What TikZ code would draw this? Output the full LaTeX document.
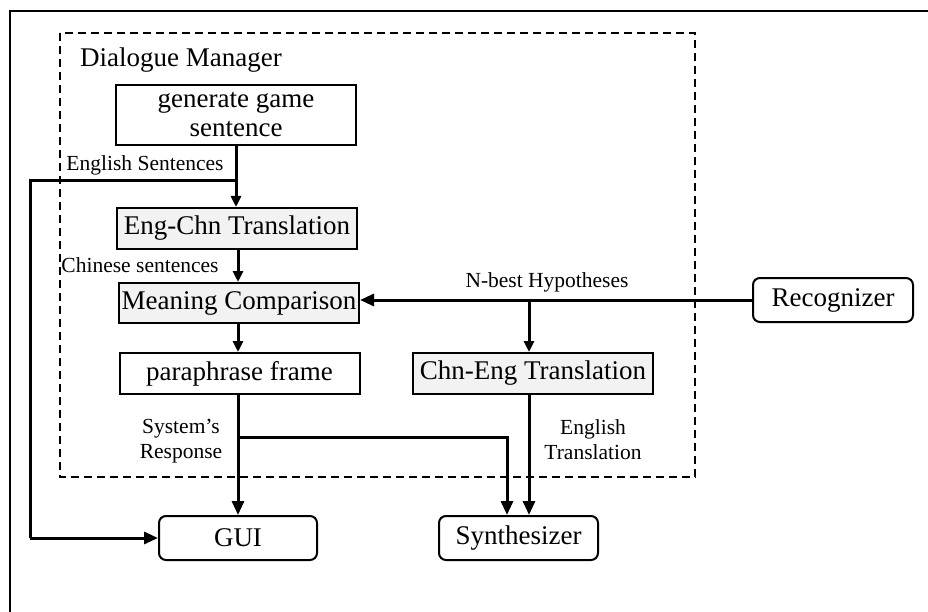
\documentclass[tikz,border=0pt]{standalone}
\usepackage{fontspec}
\setmainfont{Liberation Serif}
\usetikzlibrary{arrows.meta}
\begin{document}
\begin{tikzpicture}[x=1pt,y=-1pt,
  box/.style={draw,line width=2pt,minimum width=240pt,minimum height=41pt,inner sep=0pt,font=\fontsize{27}{29}\selectfont,align=center},
  gbox/.style={box,fill=gray!10},
  rbox/.style={draw,line width=2pt,rounded corners=7pt,minimum width=159pt,minimum height=44pt,inner sep=0pt,font=\fontsize{27}{29}\selectfont},
  lab/.style={font=\fontsize{21.5}{25}\selectfont,align=center,inner sep=0pt},
  conn/.style={line width=3pt},
  arr/.style={conn,-{Triangle[length=14pt,width=12pt]}},
  sarr/.style={conn,-{Triangle[length=11pt,width=10pt]}}]
\useasboundingbox (0,0) rectangle (928,612);
% outer frame
\draw[line width=2.5pt] (10,612) -- (10,11) -- (928,11);
% dialogue manager
\draw[line width=2pt,dash pattern=on 8pt off 5pt] (60,33) rectangle (695,477);
\node[anchor=west,font=\fontsize{27}{29}\selectfont,inner sep=0pt] (dmlab) at (80,60) {Dialogue Manager};
% boxes
\node[box,minimum height=60pt] (gen) at (236,115) {generate game\\sentence};
\node[gbox] (ec) at (237,228.5) {Eng-Chn Translation};
\node[gbox,minimum height=40pt] (mc) at (239,303) {Meaning Comparison};
\node[box] (pf) at (239.5,373.5) {paraphrase frame};
\node[gbox] (ce) at (533,373.5) {Chn-Eng Translation};
\node[rbox,minimum width=160pt] (rec) at (833,300) {Recognizer};
\node[rbox,minimum width=158pt] (gui) at (238,538) {GUI};
\node[rbox] (syn) at (518.5,538) {Synthesizer};
% coordinates
\coordinate (es) at (236,181);
\coordinate (el) at (30,181);
\coordinate (eb) at (30,538);
\coordinate (nb) at (529,300);
\coordinate (sr) at (238,437);
\coordinate (sc) at (507,437);
% connectors
\draw[sarr] (gen.south -| es) -- (ec.north -| es);
\draw[conn] (es) -- (el) -- (eb);
\draw[arr] (eb) -- (gui.west);
\draw[sarr] (ec.south -| 238,0) -- (mc.north -| 238,0);
\draw[arr] (rec.west) -- (rec.west -| mc.east);
\draw[sarr] (nb) -- (ce.north -| nb);
\draw[sarr] (mc.south -| sr) -- (pf.north -| sr);
\draw[arr] (pf.south -| sr) -- (gui.north -| sr);
\draw[arr] (sr) -- (sc) -- (syn.north -| sc);
\draw[arr] (ce.south -| nb) -- (syn.north -| nb);
% labels
\node[lab] (l1) at (145,165) {English Sentences};
\node[lab] (l2) at (140,265) {Chinese sentences};
\node[lab] (l3) at (547,282) {N-best Hypotheses};
\node[lab] (l4) at (181,441) {System’s\\Response};
\node[lab] (l5) at (593,440) {English\\Translation};
\end{tikzpicture}
\end{document}
